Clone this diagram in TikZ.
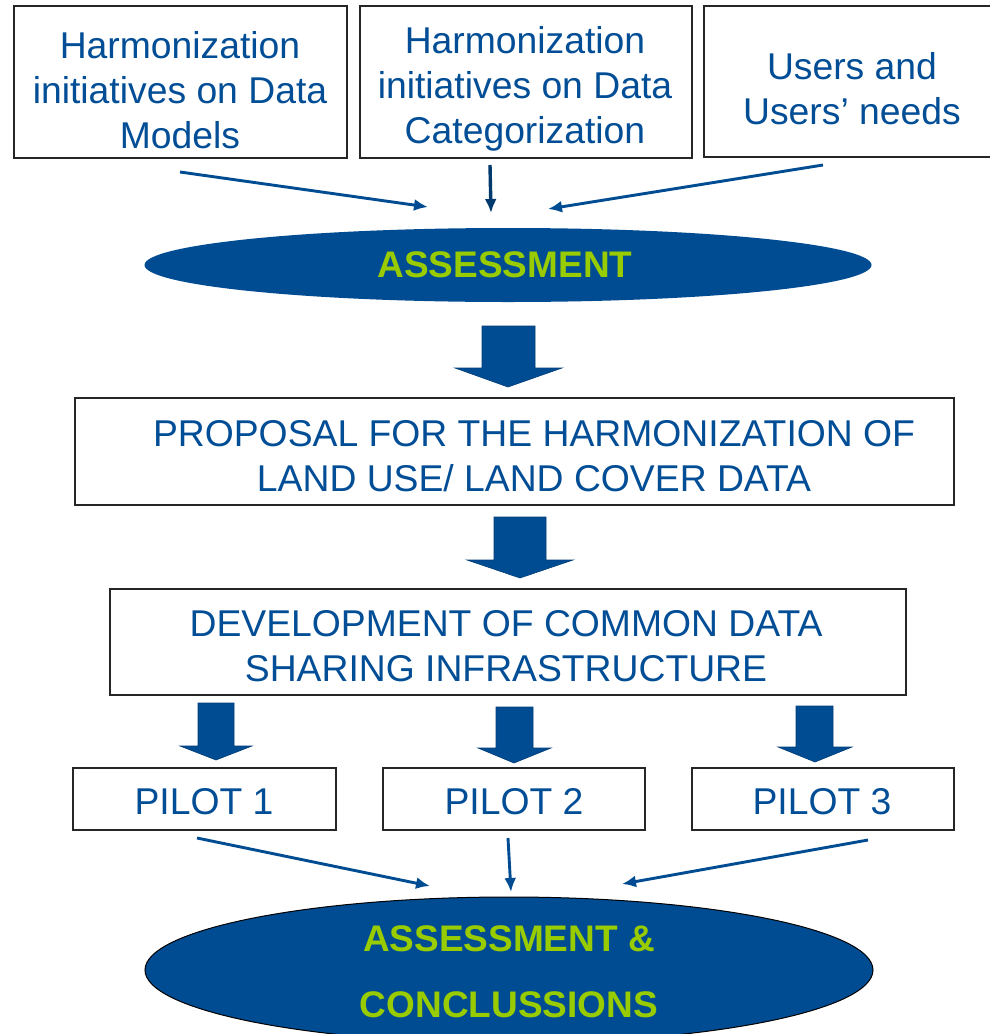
\documentclass[tikz,border=0pt]{standalone}
\usepackage{fontspec}
\setmainfont{Liberation Sans}
\usetikzlibrary{arrows.meta,shapes.geometric}
\definecolor{dblue}{RGB}{0,76,147}
\definecolor{tblue}{RGB}{2,78,150}
\definecolor{lgreen}{RGB}{153,204,0}
\tikzset{
  box/.style={draw=black!85,line width=1.4pt,fill=white},
  btext/.style={text=tblue,align=center,inner sep=0pt,font=\fontsize{37.3}{45}\selectfont},
  gtext/.style={text=lgreen,align=center,inner sep=0pt,font=\fontsize{37}{66}\selectfont\bfseries},
  thin arrow/.style={draw=dblue,line width=2.9pt,-{Latex[length=14pt,width=12pt]}},
  blockarrow/.style={fill=dblue,draw=dblue!80!black,line width=0.6pt},
}
\begin{document}
\begin{tikzpicture}[x=1pt,y=-1pt]
\useasboundingbox (0,0) rectangle (989,1034);
\fill[white] (0,0) rectangle (989,1034);
% top boxes
\draw[box] (14,6) rectangle (347,158);
\draw[box] (360,6) rectangle (692,158);
\draw[box] (704,6) rectangle (991,157);
\node[btext] (t1) at (180,90) {Harmonization\\initiatives on Data\\Models};
\node[btext] (t2) at (525,89) {Harmonization\\initiatives on Data\\Categorization};
\node[btext] (t3) at (852,89) {Users and\\Users’ needs};
% assessment ellipse
\node[ellipse,fill=dblue,minimum width=727pt,minimum height=74pt,inner sep=0pt] (ass) at (508,265) {};
\node[gtext] (asst) at (505,265) {ASSESSMENT};
% thin arrows top
\coordinate (s1) at (180,172);
\coordinate (e1) at (428,207);
\coordinate (s2) at (490,165);
\coordinate (e2) at (491,213);
\coordinate (s3) at (823,165);
\coordinate (e3) at (548,209);
\draw[thin arrow] (s1) -- (e1);
\draw[thin arrow,draw=dblue!75!black,line width=3.4pt] (s2) -- (e2);
\draw[thin arrow] (s3) -- (e3);
% block arrow 1
\draw[blockarrow] (482,326) -- (535,326) -- (535,368) -- (562,368) -- (508,387) -- (455,368) -- (482,368) -- cycle;
% proposal box
\draw[box] (75,398) rectangle (954,505);
\node[btext] (prop) at (534,456) {PROPOSAL FOR THE HARMONIZATION OF\\LAND USE/ LAND COVER DATA};
% block arrow 2
\draw[blockarrow] (494,517) -- (546,517) -- (546,560) -- (573,560) -- (520,578) -- (467,560) -- (494,560) -- cycle;
% development box
\draw[box] (110,589) rectangle (906,695);
\node[btext] (dev) at (506,646) {DEVELOPMENT OF COMMON DATA\\SHARING INFRASTRUCTURE};
% block arrows 3
\draw[blockarrow] (198,703) -- (234,703) -- (234,746) -- (252,746) -- (216,760) -- (180,746) -- (198,746) -- cycle;
\draw[blockarrow] (496,707) -- (533,707) -- (533,748) -- (551,748) -- (514,763) -- (478,748) -- (496,748) -- cycle;
\draw[blockarrow] (796,706) -- (833,706) -- (833,747) -- (852,747) -- (815,762) -- (778,747) -- (796,747) -- cycle;
% pilots
\draw[box] (73,768) rectangle (336,830);
\draw[box] (383,768) rectangle (645,830);
\draw[box] (692,768) rectangle (954,830);
\node[btext] (p1) at (204,802) {PILOT 1};
\node[btext] (p2) at (514,802) {PILOT 2};
\node[btext] (p3) at (822,802) {PILOT 3};
% thin arrows bottom
\coordinate (u1) at (197,838);
\coordinate (v1) at (430,886);
\coordinate (u2) at (508,838);
\coordinate (v2) at (511,892);
\coordinate (u3) at (868,840);
\coordinate (v3) at (622,884);
\draw[thin arrow] (u1) -- (v1);
\draw[thin arrow] (u2) -- (v2);
\draw[thin arrow] (u3) -- (v3);
% final ellipse
\node[ellipse,fill=dblue,draw=black,line width=1pt,minimum width=728pt,minimum height=146pt,inner sep=0pt] (conc) at (509,970) {};
\node[gtext] (conct) at (509,972) {ASSESSMENT \&\\CONCLUSSIONS};
\end{tikzpicture}
\end{document}
